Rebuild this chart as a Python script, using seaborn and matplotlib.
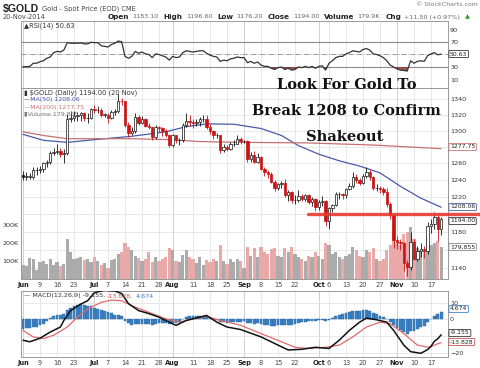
import numpy as np
import pandas as pd
import matplotlib
matplotlib.use("Agg")
import matplotlib.pyplot as plt
import matplotlib.ticker as mticker
import seaborn as sns

# ---- values ($GOLD daily, Jun 2 - Nov 20 2014) ----
dates = pd.bdate_range("2014-06-02", "2014-11-20")

opens = [1246, 1244, 1244, 1244, 1252, 1252, 1253, 1260, 1261, 1273, 1274, 1275, 1271, 1272, 1314, 1316,
         1318, 1320, 1322, 1316, 1316, 1327, 1326, 1326, 1320, 1320, 1316, 1324, 1325, 1338, 1337, 1307,
         1297, 1300, 1317, 1310, 1314, 1306, 1304, 1292, 1304, 1303, 1299, 1294, 1282, 1294, 1288, 1289,
         1307, 1312, 1311, 1309, 1311, 1314, 1314, 1305, 1299, 1294, 1294, 1276, 1280, 1277, 1283, 1284,
         1290, 1287, 1287, 1265, 1270, 1262, 1267, 1253, 1249, 1247, 1238, 1230, 1235, 1236, 1222, 1226,
         1216, 1216, 1221, 1218, 1222, 1214, 1218, 1208, 1214, 1215, 1192, 1207, 1211, 1223, 1223, 1222,
         1229, 1233, 1243, 1240, 1236, 1245, 1250, 1244, 1230, 1230, 1229, 1226, 1212, 1199, 1171, 1169,
         1167, 1145, 1141, 1169, 1150, 1159, 1161, 1158, 1186, 1189, 1197, 1183.1]
highs = [1251, 1249, 1248, 1256, 1255, 1257, 1262, 1264, 1275, 1278, 1283, 1278, 1277, 1321, 1325, 1325,
         1324, 1324, 1323, 1322, 1328, 1332, 1331, 1329, 1322, 1322, 1326, 1327, 1346, 1341, 1338, 1311,
         1304, 1322, 1320, 1318, 1316, 1309, 1305, 1307, 1306, 1304, 1302, 1296, 1296, 1295, 1291, 1309,
         1322, 1320, 1314, 1314, 1317, 1319, 1320, 1308, 1301, 1297, 1295, 1284, 1282, 1286, 1289, 1295,
         1292, 1289, 1288, 1274, 1275, 1272, 1269, 1256, 1252, 1250, 1240, 1237, 1239, 1241, 1228, 1227,
         1222, 1228, 1223, 1224, 1223, 1220, 1219, 1216, 1221, 1216, 1208, 1212, 1226, 1226, 1225, 1231,
         1236, 1249, 1247, 1242, 1247, 1255, 1252, 1245, 1235, 1233, 1232, 1231, 1214, 1200, 1175, 1172,
         1168, 1149, 1180, 1172, 1164, 1167, 1164, 1191, 1195, 1203, 1199, 1196.6]
lows = [1240, 1240, 1241, 1241, 1246, 1248, 1250, 1256, 1259, 1270, 1271, 1268, 1260, 1270, 1311, 1312,
        1312, 1312, 1312, 1310, 1314, 1322, 1322, 1317, 1317, 1310, 1314, 1320, 1322, 1332, 1305, 1292,
        1295, 1297, 1307, 1308, 1304, 1302, 1288, 1290, 1298, 1293, 1292, 1280, 1280, 1285, 1282, 1286,
        1305, 1306, 1303, 1306, 1306, 1311, 1302, 1296, 1290, 1291, 1273, 1274, 1275, 1276, 1281, 1283,
        1284, 1285, 1262, 1262, 1260, 1260, 1252, 1245, 1242, 1236, 1227, 1228, 1230, 1220, 1215, 1213,
        1212, 1214, 1215, 1215, 1212, 1210, 1204, 1205, 1210, 1187, 1183, 1202, 1209, 1218, 1218, 1219,
        1228, 1230, 1236, 1234, 1235, 1242, 1240, 1228, 1227, 1225, 1222, 1208, 1195, 1162, 1161, 1160,
        1137, 1131, 1138, 1148, 1147, 1152, 1151, 1155, 1179, 1183, 1170, 1176.2]
closes = [1244, 1244, 1244, 1252, 1252, 1253, 1260, 1261, 1273, 1274, 1275, 1271, 1272, 1314, 1316, 1318,
          1320, 1322, 1316, 1316, 1327, 1326, 1326, 1320, 1320, 1316, 1324, 1325, 1338, 1337, 1307, 1297,
          1300, 1317, 1310, 1314, 1306, 1304, 1292, 1304, 1303, 1299, 1294, 1282, 1294, 1288, 1289, 1307,
          1312, 1311, 1309, 1311, 1314, 1314, 1305, 1299, 1294, 1294, 1276, 1280, 1277, 1283, 1284, 1290,
          1287, 1287, 1265, 1270, 1262, 1267, 1253, 1249, 1247, 1238, 1230, 1235, 1236, 1222, 1226, 1216,
          1216, 1221, 1218, 1222, 1214, 1218, 1208, 1214, 1215, 1192, 1207, 1211, 1223, 1223, 1222, 1229,
          1233, 1243, 1240, 1236, 1245, 1250, 1244, 1230, 1230, 1229, 1226, 1212, 1199, 1171, 1169, 1167,
          1145, 1141, 1169, 1150, 1159, 1161, 1158, 1186, 1189, 1197, 1183, 1194]
volume_k = [78, 72, 117, 110, 50, 95, 100, 85, 110, 75, 95, 70, 85, 222, 150, 110, 115, 120, 105, 110,
            95, 120, 100, 75, 90, 60, 105, 110, 140, 150, 200, 175, 160, 130, 115, 100, 110, 150, 95, 120,
            100, 110, 120, 170, 160, 100, 95, 135, 160, 120, 110, 90, 120, 80, 105, 95, 110, 100, 190, 100,
            85, 110, 95, 110, 100, 60, 180, 130, 170, 120, 175, 150, 140, 165, 170, 130, 120, 170, 150, 175,
            140, 120, 110, 100, 130, 120, 150, 130, 110, 200, 190, 140, 150, 120, 110, 130, 140, 180, 160, 130,
            120, 160, 150, 170, 110, 100, 110, 160, 190, 280, 200, 190, 250, 260, 290, 220, 170, 160, 150, 240,
            190, 200, 210, 180]

rsi = [30.5, 30.5, 31, 36, 36, 38.5, 40, 44, 46, 53, 55, 54, 57, 69, 68, 68, 68, 68.5, 67, 67,
       69.5, 69, 69, 64, 63, 62, 66, 68, 71.5, 70.5, 47, 44, 47, 55, 52, 54, 51, 50, 45, 51,
       50, 48, 46, 41, 47, 45, 46, 53, 56, 55, 54, 55, 56, 56, 52, 49, 47, 46, 39, 41,
       40, 43, 44, 46, 45, 45, 37, 39, 36, 38, 33, 31, 31, 28, 26, 29, 30, 26, 28, 25,
       26, 30, 29, 31, 29, 31, 28, 31, 32, 25, 36, 40, 45, 47, 47, 51, 53, 56, 55, 54,
       58, 59.5, 57, 51, 50, 48, 45, 40, 33, 30, 27, 25, 24.5, 23.5, 40, 36, 39, 40, 39, 48,
       51, 53, 49.5, 50.63]

ma50_idx = [0, 6, 13, 23, 32, 42, 48, 54, 62, 70, 76, 81, 87, 93, 99, 105, 111, 117, 123]
ma50 = [1295.4, 1288, 1285.5, 1289.6, 1293, 1298.5, 1305, 1308.5, 1308, 1302.7, 1294, 1281.5, 1271,
        1263, 1256.6, 1248.5, 1232.5, 1218.6, 1208.06]
ma200_idx = [0, 6, 13, 23, 32, 42, 52, 62, 84, 103, 123]
ma200 = [1298.5, 1294, 1290, 1290, 1290, 1289, 1286.5, 1285.6, 1284.8, 1282.2, 1277.75]

macd_idx = [0, 2, 5, 8, 11, 12, 14, 17, 19, 21, 24, 27, 29, 30, 31, 34, 37, 40, 43, 45, 48, 52, 54, 57,
            60, 64, 70, 75, 78, 82, 86, 90, 93, 96, 99, 101, 104, 107, 109, 112, 114, 117, 119, 120, 121,
            122, 123]
macd = [-12.4, -13.3, -11.2, -7.5, -4.5, -0.6, 5.3, 9.2, 11.2, 16, 17.5, 17, 15.5, 12.5, 9.5, 5.3, 3.5,
        1.4, -1.6, -3.5, -0.6, 1.4, 2.4, -1.6, -4.5, -6, -10.4, -15.3, -18.2, -17.8, -16.6, -17.3, -12.4,
        -6.5, -1.6, 0.8, -0.2, -1.6, -6.5, -15.3, -19.2, -20.2, -18, -16, -13, -11.5, -9.155]
signal_idx = [0, 3, 6, 9, 13, 16, 19, 23, 26, 29, 32, 37, 42, 46, 50, 54, 58, 62, 64, 70, 76, 80, 84,
              89, 93, 97, 101, 105, 108, 112, 116, 119, 120, 121, 122, 123]
signal = [-6.5, -10.4, -11.4, -9.4, -4.5, 1.4, 6.3, 10.2, 11.6, 11.2, 8.2, 4.3, 0.4, -1.6, 0.4, 1.8,
          -0.6, -2.5, -3.5, -8.4, -13.3, -16.6, -17.3, -16.6, -15.3, -10.4, -4.5, -1.6, -2.5, -8.4,
          -15.3, -16.5, -16.3, -15.3, -14.5, -13.828]
macd_hist = [-5.5, -5.3, -5, -4.6, -4.2, -3.5, -2.5, -1.2, 0.8, 1.8, 2.5, 2.8, 3.5, 5.5, 6.8, 7.8, 8.5,
             9.0, 8.8, 8.3, 7.8, 7.0, 6.3, 5.6, 5.0, 4.2, 3.6, 2.8, 2.5, 1.8, -0.8, -2.2, -3.0, -2.6,
             -2.8, -2.6, -2.8, -2.9, -3.3, -2.6, -2.4, -2.3, -2.3, -2.8, -2.2, -2.0, -1.4, 0.3, 1.4, 1.9,
             2.0, 2.1, 2.2, 2.1, 1.6, 0.9, 0.2, -0.3, -1.4, -1.6, -1.9, -1.8, -1.7, -1.4, -1.3, -1.2,
             -2.0, -2.1, -2.5, -2.4, -2.9, -3.2, -3.3, -3.6, -3.9, -3.4, -3.0, -3.3, -3.0, -3.2, -2.9,
             -2.2, -1.8, -1.3, -1.2, -0.8, -0.9, -0.5, -0.2, -1.2, -0.2, 0.6, 1.8, 2.5, 3.0, 3.6, 4.2,
             5.0, 5.2, 5.1, 5.4, 5.5, 5.0, 3.8, 3.0, 2.2, 1.4, 0.2, -1.3, -3.5, -4.9, -6.0, -7.5, -8.6,
             -7.0, -6.6, -5.6, -4.6, -3.8, -1.8, 0.3, 2.3, 3.0, 4.674]

tick_idx = [0, 5, 10, 15, 21, 25, 30, 35, 40, 44, 50, 55, 60, 65, 70, 75, 80, 87, 90, 95, 100, 105, 110, 115, 120]
tick_labels = ["Jun", "9", "16", "23", "Jul", "7", "14", "21", "28", "Aug", "11", "18", "25",
               "Sep", "8", "15", "22", "Oct", "6", "13", "20", "27", "Nov", "10", "17"]
price_grid = [1140, 1160, 1180, 1200, 1220, 1240, 1260, 1280, 1300, 1320, 1340]
price_labels = [1140, 1180, 1220, 1240, 1260, 1300, 1320, 1340]   # the others sit under the value tags

# ---- style ----
sns.set_theme(style="white")
plt.rcParams["font.family"] = ["DejaVu Sans"]
RED = "#cc1111"
BLUE_MA = "#4a5aa8"
RED_MA = "#c87070"
GRID = "#e4e4e4"
GRID_M = "#c8c8c8"
SPINE = "#9a9a9a"

W, H = 480, 368
def fx(x):
    return x / W
def fy(y):
    return 1 - y / H

fig = plt.figure(figsize=(4.8, 3.68), dpi=100)
fig.patch.set_facecolor("white")
L, R = 21, 448
def panel(top, bottom):
    return fig.add_axes([fx(L), fy(bottom), (R - L) / W, (bottom - top) / H])

ax_rsi = panel(21, 88)
ax_vol = panel(88, 279)
ax_px = panel(88, 279)
ax_macd = panel(291, 357)

idx = np.arange(len(dates))
xlim = (-0.6, 125.0)
is_month = [lab.isalpha() for lab in tick_labels]

for ax in (ax_rsi, ax_vol, ax_px, ax_macd):
    ax.set_xlim(*xlim)
    ax.tick_params(length=0, labelsize=4.6, pad=1.5, colors="#333333")
    for s in ax.spines.values():
        s.set_color(SPINE)
        s.set_linewidth(0.7)
for ax in (ax_rsi, ax_vol, ax_macd):
    for t, m in zip(tick_idx, is_month):
        ax.axvline(t, color=GRID_M if m else GRID, lw=0.6, zorder=0)

# ---- RSI ----
rsi_a = np.array(rsi)
ax_rsi.set_ylim(-3.6, 103.6)
ax_rsi.axhline(70, color="#8a8a8a", lw=0.8, zorder=1)
ax_rsi.axhline(30, color="#8a8a8a", lw=0.8, zorder=1)
ax_rsi.axhline(50, color="#8a8a8a", lw=0.6, ls="-.", zorder=1)
ax_rsi.fill_between(idx, rsi_a, 30, where=rsi_a < 30, interpolate=True, color="#8b3a3a", alpha=0.85, lw=0)
ax_rsi.fill_between(idx, rsi_a, 70, where=rsi_a > 70, interpolate=True, color="#8b3a3a", alpha=0.85, lw=0)
sns.lineplot(x=idx, y=rsi_a, ax=ax_rsi, color="#333333", lw=0.9)
ax_rsi.yaxis.tick_right()
ax_rsi.set_yticks([10, 30, 70, 90])
ax_rsi.set_xticks(tick_idx)
ax_rsi.set_xticklabels([])
ax_rsi.set_xlim(*xlim)
ax_rsi.set_ylim(-3.6, 103.6)
ax_rsi.set_ylabel("")

# ---- volume (behind the candles) ----
up = ["up" if i == 0 or closes[i] >= closes[i - 1] else "down" for i in idx]
vol_df = pd.DataFrame({"i": idx, "v": volume_k, "d": up})
sns.barplot(data=vol_df, x="i", y="v", hue="d", palette={"up": "#ababab", "down": "#e9a9a9"},
            native_scale=True, dodge=False, width=0.92, legend=False, ax=ax_vol, linewidth=0, saturation=1)
ax_vol.set_ylim(0, 1061)
ax_vol.set_yticks([100, 200, 300])
ax_vol.set_yticklabels(["100K", "200K", "300K"])
lo, hi = 1127.8, 1354.2
for p in price_grid:
    f = (np.log(p) - np.log(lo)) / (np.log(hi) - np.log(lo))
    ax_vol.plot([0, 1], [f, f], transform=ax_vol.transAxes, color=GRID, lw=0.6, zorder=0)
ax_vol.set_xticks(tick_idx)
ax_vol.set_xticklabels([])
ax_vol.set_xlim(*xlim)
ax_vol.set_xlabel("")
ax_vol.set_ylabel("")

# ---- price candles + moving averages ----
ax_px.patch.set_visible(False)
ax_px.set_yscale("log")
for i in idx:
    o, h, l, c = opens[i], highs[i], lows[i], closes[i]
    col = RED if i > 0 and c < closes[i - 1] else "#111111"
    face = col if c < o else "white"
    ax_px.vlines(i, l, h, color=col, lw=0.6, zorder=3)
    ax_px.bar(i, max(abs(c - o), 0.4), bottom=min(o, c), width=0.7, facecolor=face,
              edgecolor=col, lw=0.5, zorder=4)
sns.lineplot(x=ma50_idx, y=ma50, ax=ax_px, color=BLUE_MA, lw=0.9, zorder=2)
sns.lineplot(x=ma200_idx, y=ma200, ax=ax_px, color=RED_MA, lw=0.9, zorder=2)
ax_px.set_ylim(lo, hi)
ax_px.yaxis.tick_right()
ax_px.yaxis.set_major_locator(mticker.FixedLocator(price_labels))
ax_px.yaxis.set_major_formatter(mticker.FuncFormatter(lambda v, p: f"{v:.0f}"))
ax_px.yaxis.set_minor_locator(mticker.NullLocator())
ax_px.set_xlim(*xlim)
ax_px.set_xticks(tick_idx)
ax_px.set_xticklabels(tick_labels)
ax_px.set_xlabel("")
ax_px.set_ylabel("")
ax_px.tick_params(axis="x", labelsize=4.8, pad=2)

# ---- MACD ----
ax_macd.set_ylim(-22.4, 17)
for g in (10, 0, -10, -20):
    ax_macd.axhline(g, color=GRID, lw=0.6, zorder=0)
ax_macd.bar(idx, macd_hist, width=0.85, color="#3b82c4", edgecolor="#2a659e", lw=0.3, zorder=2)
sns.lineplot(x=signal_idx, y=signal, ax=ax_macd, color="#e06a6a", lw=0.9, zorder=3)
sns.lineplot(x=macd_idx, y=macd, ax=ax_macd, color="#111111", lw=1.1, zorder=4)
ax_macd.yaxis.tick_right()
ax_macd.set_yticks([-20, 0, 10])
ax_macd.set_xlim(*xlim)
ax_macd.set_ylim(-22.4, 17)
ax_macd.set_xticks(tick_idx)
ax_macd.set_xticklabels(tick_labels)
ax_macd.set_xlabel("")
ax_macd.set_ylabel("")
ax_macd.tick_params(axis="x", labelsize=4.8, pad=2)

for ax in (ax_px, ax_macd):
    for lab, m in zip(ax.get_xticklabels(), is_month):
        lab.set_fontweight("bold" if m else "normal")
        lab.set_color("#222222" if m else "#444444")

# ---- header ----
renderer = fig.canvas.get_renderer()
t = fig.text(fx(3), fy(9), "$GOLD", fontsize=7.6, fontweight="bold", family="Liberation Sans",
             color="#222222", va="center")
bb = t.get_window_extent(renderer)
fig.text(fx(3 + bb.width + 3), fy(9), "Gold - Spot Price (EOD) CME", fontsize=4.8, color="#444444", va="center")
fig.text(fx(478), fy(5), "\u00a9 StockCharts.com", fontsize=4.5, color="#777777", va="center", ha="right")
fig.text(fx(3), fy(17), "20-Nov-2014", fontsize=4.8, color="#444444", va="center")

pieces = [("Open", True, "#222222"), ("1183.10", False, "#666666"), ("High", True, "#222222"),
          ("1196.60", False, "#666666"), ("Low", True, "#222222"), ("1176.20", False, "#666666"),
          ("Close", True, "#222222"), ("1194.00", False, "#666666"), ("Volume", True, "#222222"),
          ("179.9K", False, "#666666"), ("Chg", True, "#222222"), ("+11.50 (+0.97%)", False, "#666666"),
          ("\u25b2", False, "#2a9a2a")]
xcur = 108
for txt, bold, col in pieces:
    t = fig.text(fx(xcur), fy(17), txt, fontsize=5.2 if bold else 4.6,
                 fontweight="bold" if bold else "normal", color=col, va="center")
    bb = t.get_window_extent(renderer)
    xcur += bb.width + (3 if bold else 5)

# ---- panel legends ----
fig.text(fx(24), fy(26), "\u25b2RSI(14) 50.63", fontsize=4.8, color="#333333", va="center")
fig.text(fx(24), fy(93), "\u25ae $GOLD (Daily) 1194.00 (20 Nov)", fontsize=4.8, color="#333333", va="center")
fig.text(fx(24), fy(100), "\u2014MA(50) 1208.06", fontsize=4.5, color=BLUE_MA, va="center")
fig.text(fx(24), fy(107), "\u2014MA(200) 1277.75", fontsize=4.5, color=RED_MA, va="center")
fig.text(fx(24), fy(114), "\u25aeVolume 179,855", fontsize=4.5, color="#777777", va="center")

t0 = fig.text(fx(24), fy(296), "\u2014 MACD(12,26,9) -9.155,", fontsize=4.6, color="#333333", va="center")
bb = t0.get_window_extent(renderer)
t1 = fig.text(fx(24 + bb.width + 2), fy(296), "-13.828,", fontsize=4.6, color="#d05050", va="center")
bb1 = t1.get_window_extent(renderer)
fig.text(fx(24 + bb.width + bb1.width + 4), fy(296), "4.674", fontsize=4.6, color="#3b82c4", va="center")

# ---- value tags on the right ----
def tag(y, txt, edge):
    fig.text(fx(450), fy(y), txt, fontsize=4.4, color="#222222", va="center", ha="left",
             bbox=dict(boxstyle="round,pad=0.18", fc="white", ec=edge, lw=0.6))
tag(54, "50.63", "#333333")
tag(147, "1277.75", RED_MA)
tag(207, "1208.06", BLUE_MA)
tag(221, "1194.00", "#333333")
tag(247, "179,855", "#888888")
tag(309, "4.674", "#3b82c4")
tag(333, "-9.155", "#333333")
tag(342, "-13.828", "#d05050")

# ---- annotation ----
ann = dict(fontsize=10.5, fontweight="bold", family="DejaVu Serif", color="#111111", ha="center", va="center")
fig.text(fx(347), fy(85), "Look For Gold To", **ann)
fig.text(fx(346), fy(111), "Break 1208 to Confirm", **ann)
fig.text(fx(345), fy(137), "Shakeout", **ann)
fig.add_artist(plt.Line2D([fx(308), fx(480)], [fy(214.5), fy(214.5)], color="#e83a2e", lw=2.4, alpha=0.9))

fig.savefig("out.png", dpi=100, facecolor="white")
